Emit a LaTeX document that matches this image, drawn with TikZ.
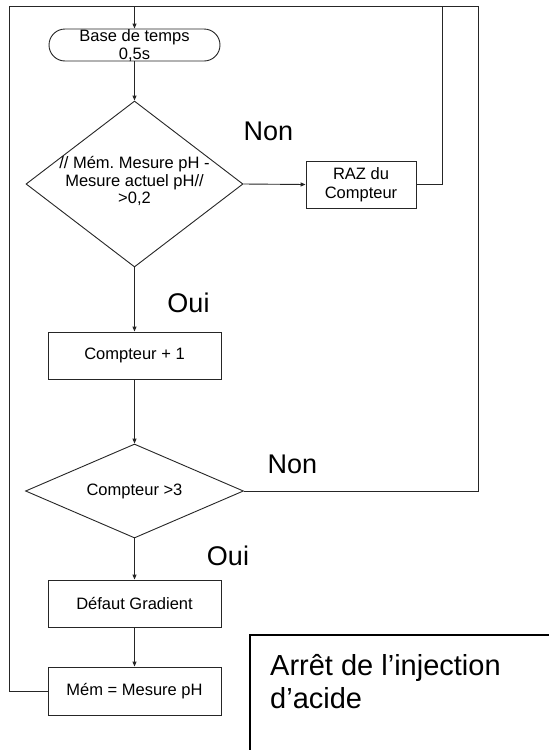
\documentclass[tikz,border=0pt]{standalone}
\usepackage{fontspec}
\setmainfont{Liberation Sans}
\usetikzlibrary{arrows.meta,shapes.geometric,shapes.misc}
\frenchspacing
\begin{document}
\begin{tikzpicture}[x=1pt,y=-1pt,
  ln/.style={draw=black!85,line width=0.9pt},
  arr/.style={ln,-{Triangle[length=5pt,width=4pt]}},
  procbox/.style={ln,rectangle,inner sep=0pt,minimum width=173pt,minimum height=47pt,font=\fontsize{16.5pt}{18pt}\selectfont},
  termbox/.style={ln,rounded rectangle,inner sep=0pt,minimum width=171pt,minimum height=32pt},
  decbox/.style={ln,diamond,inner sep=0pt},
  smalltxt/.style={inner sep=0pt,align=center,font=\fontsize{16.5pt}{17.5pt}\selectfont},
  bigtxt/.style={inner sep=0pt,anchor=base,font=\fontsize{27pt}{30pt}\selectfont}]
\useasboundingbox (0,0) rectangle (549,750);
\fill[white] (0,0) rectangle (549,750);

% coordinates of the loop
\coordinate (tl) at (9,6);
\coordinate (tm) at (134.5,6);
\coordinate (tr1) at (442,6);
\coordinate (tr) at (478,6);

% nodes
\node[termbox] (base) at (134.5,45) {};
\node[smalltxt,font=\fontsize{16.5pt}{18pt}\selectfont] (basetxt) at (134.5,46) {Base de temps\\0,5s};

\node[decbox,minimum width=217pt,minimum height=166pt] (dec1) at (134.5,184) {};
\node[smalltxt] (dec1txt) at (134.5,181) {// Mém. Mesure pH -\\Mesure actuel pH//\\>0,2};

\node[procbox,minimum width=110pt,align=center,font=\fontsize{16.5pt}{19.5pt}\selectfont] (raz) at (361,184.5) {RAZ du\\Compteur};

\node[bigtxt] (non1) at (268.5,140) {Non};
\node[bigtxt] (oui1) at (188.5,312) {Oui};

\node[procbox] (c1) at (134.5,355.5) {Compteur + 1};

\node[decbox,minimum width=218pt,minimum height=94pt] (dec2) at (134.5,491) {};
\node[smalltxt] (dec2txt) at (134.5,491) {Compteur >3};

\node[bigtxt] (non2) at (292.5,473) {Non};
\node[bigtxt] (oui2) at (228,565) {Oui};

\node[procbox] (defaut) at (134.5,603.5) {Défaut Gradient};
\node[procbox,minimum height=48pt] (mem) at (134.5,691) {Mém = Mesure pH};

% Arrêt box (cut by the page edges): only its top and left sides are in view
\coordinate (arretTR) at (549,635);
\coordinate (arretBL) at (250,750);
\draw[draw=black,line width=1.6pt] (arretTR) -| (arretBL);
\node[inner sep=0pt,anchor=base west,align=left,font=\fontsize{29pt}{33pt}\selectfont] (arrettxt) at (270,708) {Arrêt de l’injection\\d’acide};

% connectors
\draw[arr] (tm) -- (base.north);
\draw[arr] (base.south) -- (dec1.north);
\draw[arr] (dec1.east) -- (raz.west);
\draw[ln] (raz.east) -| (tr1);
\draw[arr] (dec1.south) -- (c1.north);
\draw[arr] (c1.south) -- (dec2.north);
\draw[ln] (dec2.east) -| (tr);
\draw[arr] (dec2.south) -- (defaut.north);
\draw[arr] (defaut.south) -- (mem.north);
\draw[ln] (mem.west) -| (tl) -- (tr);
\end{tikzpicture}
\end{document}
